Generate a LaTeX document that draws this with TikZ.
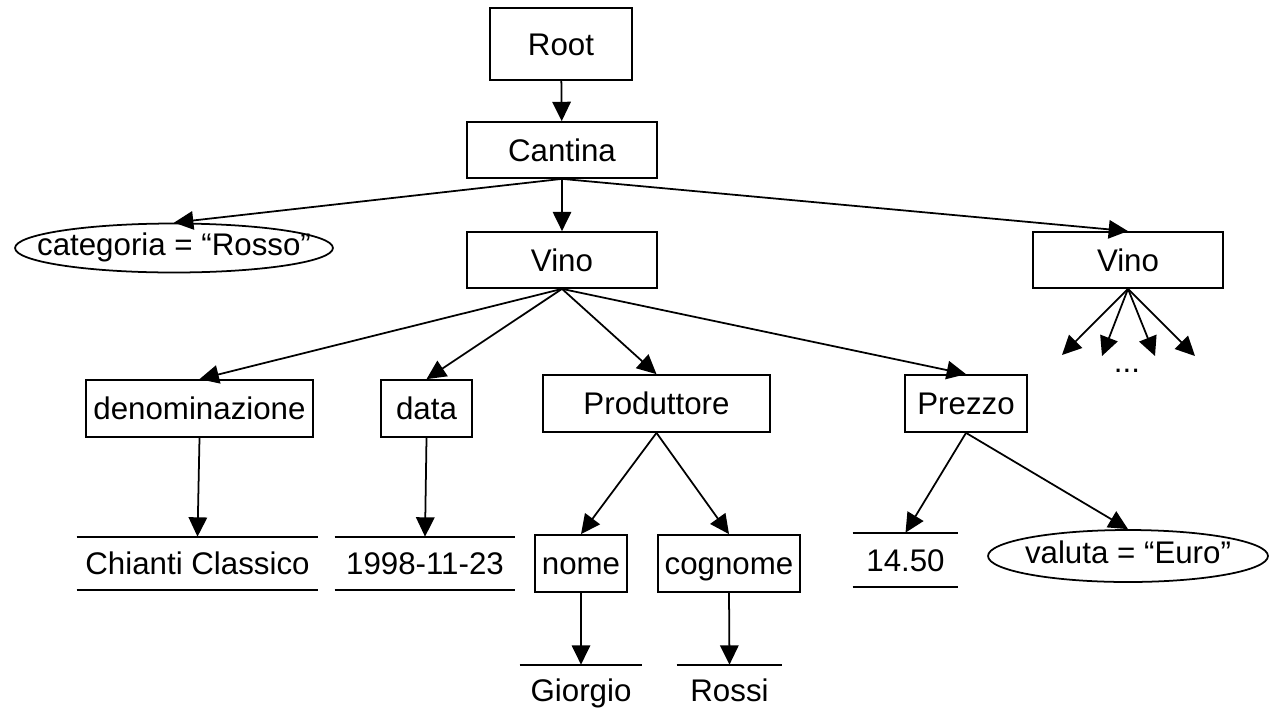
\documentclass[tikz,border=0pt]{standalone}
\usepackage{fontspec}
\setmainfont{Liberation Sans}
\usetikzlibrary{arrows.meta,shapes.geometric}
\newcommand{\ovaltext}[1]{\makebox[0pt]{\raisebox{2pt}{#1}}}
\begin{document}
\begin{tikzpicture}[x=0.02cm,y=-0.02cm,
  every node/.style={font=\fontsize{17.8pt}{20pt}\selectfont, inner sep=0pt, text height=12.7pt, text depth=0pt},
  box/.style={draw, line width=1pt, rectangle},
  oval/.style={draw, line width=1pt, ellipse},
  val/.style={rectangle},
  conn/.style={line width=1pt, -{Triangle[length=11pt,width=10.5pt]}},
  rule/.style={line width=1pt}]
\useasboundingbox (0,0) rectangle (1270,717);
% boxes
\node[box, minimum width=2.84cm, minimum height=1.44cm] (root) at (561,44) {Root};
\node[box, minimum width=3.8cm, minimum height=1.12cm] (cantina) at (562,150) {Cantina};
\node[oval, minimum width=6.36cm, minimum height=0.98cm] (cat) at (174,248) {\ovaltext{categoria = “Rosso”}};
\node[box, minimum width=3.8cm, minimum height=1.12cm] (vino) at (562,260) {Vino};
\node[box, minimum width=3.8cm, minimum height=1.12cm] (vino2) at (1128,260) {Vino};
\node[box, minimum width=4.54cm, minimum height=1.14cm] (den) at (199.5,408.5) {denominazione};
\node[box, minimum width=1.82cm, minimum height=1.14cm] (data) at (426.5,408.5) {data};
\node[box, minimum width=4.54cm, minimum height=1.14cm] (prod) at (656.5,403.5) {Produttore};
\node[box, minimum width=2.44cm, minimum height=1.14cm] (prezzo) at (966,403.5) {Prezzo};
\node[box, minimum width=1.84cm, minimum height=1.14cm] (nome) at (581,563.5) {nome};
\node[box, minimum width=2.84cm, minimum height=1.14cm] (cognome) at (729,563.5) {cognome};
\node[oval, minimum width=5.6cm, minimum height=1.04cm] (valuta) at (1128,556) {\ovaltext{valuta = “Euro”}};
% values between rules
\node[val, minimum width=4.82cm, minimum height=1.06cm] (chianti) at (197.5,563.5) {Chianti Classico};
\node[val, minimum width=3.6cm, minimum height=1.06cm] (date) at (425,563.5) {1998-11-23};
\node[val, minimum width=2.1cm, minimum height=1.08cm] (price) at (905.5,560) {14.50};
\node[val, minimum width=2.44cm, minimum height=1.0cm] (giorgio) at (581,690) {Giorgio};
\node[val, minimum width=2.1cm, minimum height=1.0cm] (rossi) at (729.5,690) {Rossi};
\draw[rule] (chianti.north west) -- (chianti.north east) (chianti.south west) -- (chianti.south east);
\draw[rule] (date.north west) -- (date.north east) (date.south west) -- (date.south east);
\draw[rule] (price.north west) -- (price.north east) (price.south west) -- (price.south east);
\draw[rule] (giorgio.north west) -- (giorgio.north east);
\draw[rule] (rossi.north west) -- (rossi.north east);
\node (dots) at (1127,361) {...};
% free ends
\coordinate (e1) at (1062,355);
\coordinate (e2) at (1102,356);
\coordinate (e3) at (1155,356);
\coordinate (e4) at (1195,356);
% connectors
\draw[conn] (root) -- (cantina);
\draw[conn] (cantina.south) -- (cat.north);
\draw[conn] (cantina.south) -- (vino.north);
\draw[conn] (cantina.south) -- (vino2.north);
\draw[conn] (vino.south) -- (den.north);
\draw[conn] (vino.south) -- (data.north);
\draw[conn] (vino.south) -- (prod.north);
\draw[conn] (vino.south) -- (prezzo.north);
\draw[conn] (vino2.south) -- (e1);
\draw[conn] (vino2.south) -- (e2);
\draw[conn] (vino2.south) -- (e3);
\draw[conn] (vino2.south) -- (e4);
\draw[conn] (den.south) -- (chianti.north);
\draw[conn] (data.south) -- (date.north);
\draw[conn] (prod.south) -- (nome.north);
\draw[conn] (prod.south) -- (cognome.north);
\draw[conn] (nome.south) -- (giorgio.north);
\draw[conn] (cognome.south) -- (rossi.north);
\draw[conn] (prezzo.south) -- (price.north);
\draw[conn] (prezzo.south) -- (valuta.north);
\end{tikzpicture}
\end{document}
